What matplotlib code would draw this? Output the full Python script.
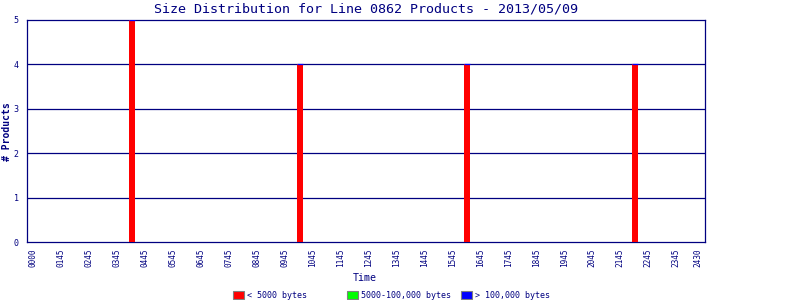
import matplotlib
matplotlib.use("Agg")
import matplotlib.pyplot as plt
import numpy as np
from matplotlib.patches import Patch

# ---- data ----
bar_times = ["0345", "0945", "1545", "2145"]
small_counts = [5, 4, 4, 4]      # < 5000 bytes
medium_counts = [0, 0, 0, 0]     # 5000-100,000 bytes
large_counts = [0, 0, 0, 0]      # > 100,000 bytes
x_tick_labels = ["0000", "0145", "0245", "0345", "0445", "0545", "0645", "0745",
                 "0845", "0945", "1045", "1145", "1245", "1345", "1445", "1545",
                 "1645", "1745", "1845", "1945", "2045", "2145", "2245", "2345",
                 "2430"]
y_ticks = [0, 1, 2, 3, 4, 5]
series_labels = ["< 5000 bytes", "5000-100,000 bytes", "> 100,000 bytes"]
title = "Size Distribution for Line 0862 Products - 2013/05/09"

NAVY = "#000080"
MONO = "DejaVu Sans Mono"

def to_bin(t):
    return int(t[:2]) * 4 + int(t[2:]) // 15

x = np.array([to_bin(t) for t in bar_times], dtype=float)
small = np.array(small_counts, dtype=float)
medium = np.array(medium_counts, dtype=float)
large = np.array(large_counts, dtype=float)

fig = plt.figure(figsize=(8, 3), dpi=100)
ax = fig.add_axes([27 / 800, 1 - 242 / 300, (705 - 27) / 800, (242 - 20) / 300])

w = 0.88
ax.bar(x, small, width=w, color="#FF0000", linewidth=0, zorder=3)
ax.bar(x, medium, width=w, bottom=small, color="#00FF00", edgecolor="#00FF00",
       linewidth=0, zorder=3)
ax.bar(x, large, width=w, bottom=small + medium, color="#0000FF",
       edgecolor="#0000FF", linewidth=0.9, zorder=4)

ax.set_xlim(0, 97)
ax.set_ylim(0, 5)

for yv in y_ticks[1:-1]:
    ax.axhline(yv, color=NAVY, linewidth=0.9, zorder=2)

for s in ax.spines.values():
    s.set_color(NAVY)
    s.set_linewidth(0.9)

n = len(x_tick_labels) - 1
tick_pos = list(np.arange(n) * 4 + 0.86) + [96.0]
ax.set_xticks(tick_pos)
ax.set_xticklabels(x_tick_labels, rotation=90, fontsize=5.6, family=MONO,
                   color=NAVY)
ax.set_yticks(y_ticks)
ax.set_yticklabels([str(v) for v in y_ticks], fontsize=6, family=MONO, color=NAVY)
ax.tick_params(axis="both", length=0)
ax.tick_params(axis="x", pad=5)
ax.tick_params(axis="y", pad=6)

fig.text(366 / 800, 1 - 9 / 300, title, ha="center", va="center",
         fontsize=9.6, family=MONO, color=NAVY)
fig.text(365 / 800, 1 - 278 / 300, "Time", ha="center", va="center",
         fontsize=7.2, family=MONO, color=NAVY)
fig.text(7 / 800, 1 - 132 / 300, "# Products", ha="center", va="center",
         rotation=90, fontsize=7, family=MONO, color=NAVY, fontweight="bold")

colors = ["#FF0000", "#00FF00", "#0000FF"]
starts = [233, 347, 461]
for lab, c, x0 in zip(series_labels, colors, starts):
    h = Patch(facecolor=c, edgecolor="#808080", linewidth=0.8)
    fig.legend(handles=[h], labels=[lab], loc="center left",
               bbox_to_anchor=(x0 / 800, 1 - 295 / 300), frameon=False,
               prop={"family": MONO, "size": 6}, labelcolor=NAVY,
               handlelength=1.3, handleheight=1.1, handletextpad=0.35,
               borderpad=0, borderaxespad=0)

fig.savefig("out.png", dpi=100)
